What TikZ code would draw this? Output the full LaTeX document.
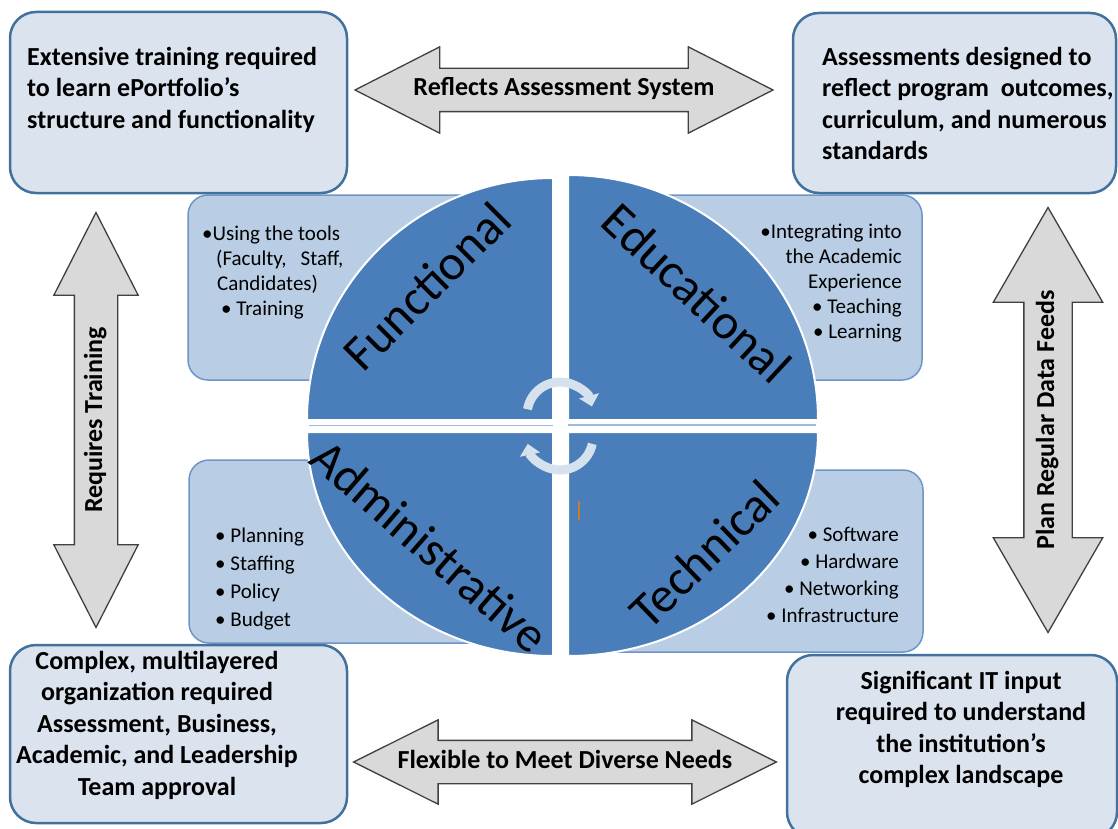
\documentclass[tikz,border=0pt]{standalone}
\usepackage{fontspec}
\setmainfont{Carlito}
\usepackage{tikz}
\usetikzlibrary{shapes,arrows,positioning}
\usetikzlibrary{arrows.meta,calc}

\definecolor{boxfill}{HTML}{DBE3EF}
\definecolor{boxline}{HTML}{41719C}
\definecolor{sidefill}{HTML}{B9CDE5}
\definecolor{sideline}{HTML}{6F95C8}
\definecolor{quadfill}{HTML}{4A7EBB}
\definecolor{arrfill}{HTML}{D9D9D9}
\definecolor{arrline}{HTML}{404040}
\definecolor{turnfill}{HTML}{D6E1EE}
\definecolor{gapline}{HTML}{9DB9DD}
\definecolor{markcol}{HTML}{C07F35}

\begin{document}
\begin{tikzpicture}[x=1pt,y=-1pt]
    \tikzstyle{every node} = [font=\fontsize{21}{25}\selectfont, inner sep=0pt]
    \tikzstyle{block} = [draw=boxline, line width=2.5pt, fill=boxfill, rounded corners=26pt]
    \tikzstyle{sidebox} = [draw=sideline, line width=1.5pt, fill=sidefill, rounded corners=20pt]
    \tikzstyle{quadrant} = [fill=quadfill, draw=white, line width=2pt]
    \tikzstyle{boxtext} = [font=\fontsize{26}{31.5}\selectfont\bfseries]
    \tikzstyle{quadtext} = [font=\fontsize{50}{60}\selectfont]
    \tikzstyle{dblarrow} = [shape=double arrow, draw=arrline, line width=1.3pt, fill=arrfill, font=\fontsize{26}{30}\selectfont\bfseries, text height=17pt, text depth=5pt, inner ysep=10pt, inner xsep=0pt]
    \tikzstyle{turn} = [draw=turnfill, line width=9pt, -{Triangle[width=20pt,length=11pt]}]

    \useasboundingbox (0,0) rectangle (1118,829);

    % side boxes behind the wheel
    \node[sidebox, minimum width=332pt, minimum height=185pt] (funcside) at (354,287.5) {};
    \node[sidebox, minimum width=322pt, minimum height=185pt] (eduside) at (761,287.5) {};
    \node[sidebox, minimum width=331pt, minimum height=183pt] (adminside) at (354.5,551.5) {};
    \node[sidebox, minimum width=323pt, minimum height=182pt] (techside) at (761.5,561) {};

    % corner boxes
    \node[block, minimum width=337pt, minimum height=181pt] (train) at (178.5,102.5) {};
    \node[block, minimum width=323pt, minimum height=180pt] (assess) at (954.5,103) {};
    \node[block, minimum width=337pt, minimum height=178pt] (complex) at (178.5,734) {};
    \node[block, minimum width=330pt, minimum height=183pt] (itinput) at (952,746.5) {};

    % the wheel
    \fill[quadrant] (553,420) -- (307,420) arc[start angle=180, end angle=270, x radius=246, y radius=242] -- cycle;
    \fill[quadrant] (568,420) -- (818,420) arc[start angle=0, end angle=-90, x radius=250, y radius=245] -- cycle;
    \fill[quadrant] (553,432) -- (307,432) arc[start angle=180, end angle=90, x radius=246, y radius=224] -- cycle;
    \fill[quadrant] (568,432) -- (818,432) arc[start angle=0, end angle=90, x radius=250, y radius=224] -- cycle;
    \draw[gapline, line width=1.2pt] (309,425.5) -- (553,425.5);
    \draw[gapline, line width=1.2pt] (568,425) -- (816,425);
    \draw[markcol, line width=2pt] (579,501) -- (579,520);

    \draw[turn] (560,415) ++(190:33) arc[start angle=190, end angle=345, radius=33];
    \draw[turn] (560,437) ++(12:33) arc[start angle=12, end angle=168, radius=33];

    % wheel labels
    \node[quadtext, rotate=45] (func) at (427,286) {Functional};
    \node[quadtext, rotate=-43] (edu) at (697,293) {Educational};
    \node[quadtext, rotate=-41] (admin) at (430,546) {Administrative};
    \node[quadtext, rotate=44] (tech) at (704,554) {Technical};

    % side texts
    \node[align=left, anchor=north west] (functext) at (202,226)
    {\textbullet Using the tools\\ \hspace{14pt}(Faculty,\hspace{14pt}Staff,\\ \hspace{15pt}Candidates)\\ \hspace{19pt}\textbullet{} Training};
    \node[align=right, anchor=north east] (edutext) at (902,224)
    {\textbullet Integrating into\\the Academic\\Experience\\\textbullet{} Teaching\\\textbullet{} Learning};
    \node[align=left, anchor=north west, font=\fontsize{21}{28}\selectfont] (admintext) at (215,528)
    {\textbullet{} Planning\\\textbullet{} Staffing\\\textbullet{} Policy\\\textbullet{} Budget};
    \node[align=right, anchor=north east, font=\fontsize{21}{27}\selectfont] (techtext) at (899,527)
    {\textbullet{} Software\\\textbullet{} Hardware\\\textbullet{} Networking\\\textbullet{} Infrastructure};

    % box texts
    \node[boxtext, align=left, anchor=north west] (traintext) at (27,47)
    {Extensive training required\\to learn ePortfolio’s\\structure and functionality};
    \node[boxtext, align=left, anchor=north west] (assesstext) at (822,47)
    {Assessments designed to\\reflect program\ \ outcomes,\\curriculum, and numerous\\standards};
    \node[boxtext, align=center, anchor=north] (complextext) at (157,651)
    {Complex, multilayered\\organization required\\Assessment, Business,\\Academic, and Leadership\\Team approval};
    \node[boxtext, align=center, anchor=north] (ittext) at (961,671)
    {Significant IT input\\required to understand\\the institution’s\\complex landscape};

    % Connections
    \node[dblarrow, minimum height=418pt, double arrow head extend=21.5pt, double arrow tip angle=54] (reflect) at (564,90) {Reflects Assessment System};
    \node[dblarrow, minimum height=419pt, double arrow head extend=20.5pt, double arrow tip angle=53] (flex) at (565,762) {Flexible to Meet Diverse Needs};
    \node[dblarrow, rotate=90, minimum height=415pt, double arrow head extend=20.5pt, double arrow tip angle=54] (reqtrain) at (96,420) {Requires Training};
    \node[dblarrow, rotate=90, minimum height=425pt, inner ysep=12.5pt, double arrow head extend=30.5pt, double arrow tip angle=60] (datafeed) at (1048,420) {Plan Regular Data Feeds};

\end{tikzpicture}
\end{document}
